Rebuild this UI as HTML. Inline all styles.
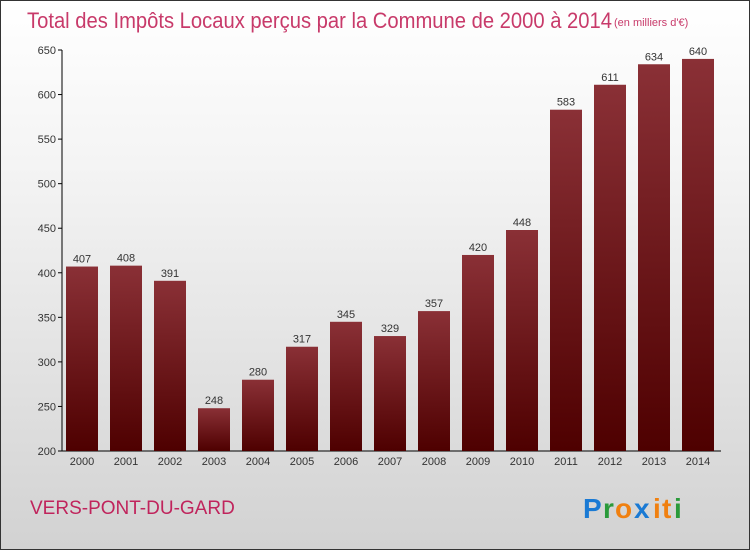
<!DOCTYPE html>
<html><head><meta charset="utf-8"><style>
body{margin:0;width:750px;height:550px;overflow:hidden;font-family:"Liberation Sans",sans-serif}
#wrap{position:absolute;left:0;top:0;width:748px;height:548px;border:1px solid #333;background:linear-gradient(#ffffff,#f4f4f4 30%,#d2d2d2)}
</style></head><body>
<div id="wrap">
<svg width="750" height="550" viewBox="0 0 750 550" style="position:absolute;left:-1px;top:-1px">
<defs><linearGradient id="bg" x1="0" y1="0" x2="0" y2="1"><stop offset="0" stop-color="#8a3036"/><stop offset="1" stop-color="#4e0000"/></linearGradient></defs>
<text x="27" y="28" font-size="22" fill="#c83a6a" textLength="585" lengthAdjust="spacingAndGlyphs">Total des Impôts Locaux perçus par la Commune de 2000 à 2014</text>
<text x="614" y="26" font-size="11" fill="#c83a6a">(en milliers d'€)</text>
<g id="yaxis"></g><g id="bars"></g>
<text x="30" y="514" font-size="19" fill="#c0245c">VERS-PONT-DU-GARD</text>
<g font-size="28" font-family="Liberation Sans, sans-serif" font-weight="bold">
<text x="583" y="518" fill="#1a7ad4">P</text><text x="603" y="518" fill="#2a9a3a">r</text><text x="615" y="518" fill="#f08010">o</text><text x="634" y="518" fill="#1a7ad4">x</text><text x="653" y="518" fill="#f08010">i</text><text x="662" y="518" fill="#f08010">t</text><text x="674" y="518" fill="#2a9a3a">i</text>
</g>
</svg></div>
<script>
const years=["2000","2001","2002","2003","2004","2005","2006","2007","2008","2009","2010","2011","2012","2013","2014"];
const values=[407,408,391,248,280,317,345,329,357,420,448,583,611,634,640];
const yTicks=[200,250,300,350,400,450,500,550,600,650];
const NS="http://www.w3.org/2000/svg";
const y=v=>451-(v-200)*(401/450);
const x=i=>82+i*44;
function mk(t,a,p){const e=document.createElementNS(NS,t);for(const k in a)e.setAttribute(k,a[k]);p.appendChild(e);return e;}
const ya=document.getElementById('yaxis'),bg=document.getElementById('bars');
let l=mk('line',{x1:62,y1:50,x2:62,y2:451,stroke:'#000'},ya);


l=mk('line',{x1:62,y1:451,x2:721,y2:451,stroke:'#000'},ya);


yTicks.forEach(v=>{
 mk('line',{x1:58,y1:y(v),x2:62,y2:y(v),stroke:'#000'},ya);
 const t=mk('text',{x:56,y:y(v)+4,'font-size':11,'text-anchor':'end',fill:'#333'},ya);t.textContent=v;
 
 
});
years.forEach((yr,i)=>{
 const r=mk('rect',{x:x(i)-16,y:y(values[i]),width:32,height:451-y(values[i]),fill:'url(#bg)'},bg);
 
 
 const t=mk('text',{x:x(i),y:y(values[i])-4,'font-size':11,'text-anchor':'middle',fill:'#333'},bg);t.textContent=values[i];
 
 
 const xt=mk('text',{x:x(i),y:465,'font-size':11,'text-anchor':'middle',fill:'#333'},bg);xt.textContent=yr;
 
 
});
</script>
</body></html>
